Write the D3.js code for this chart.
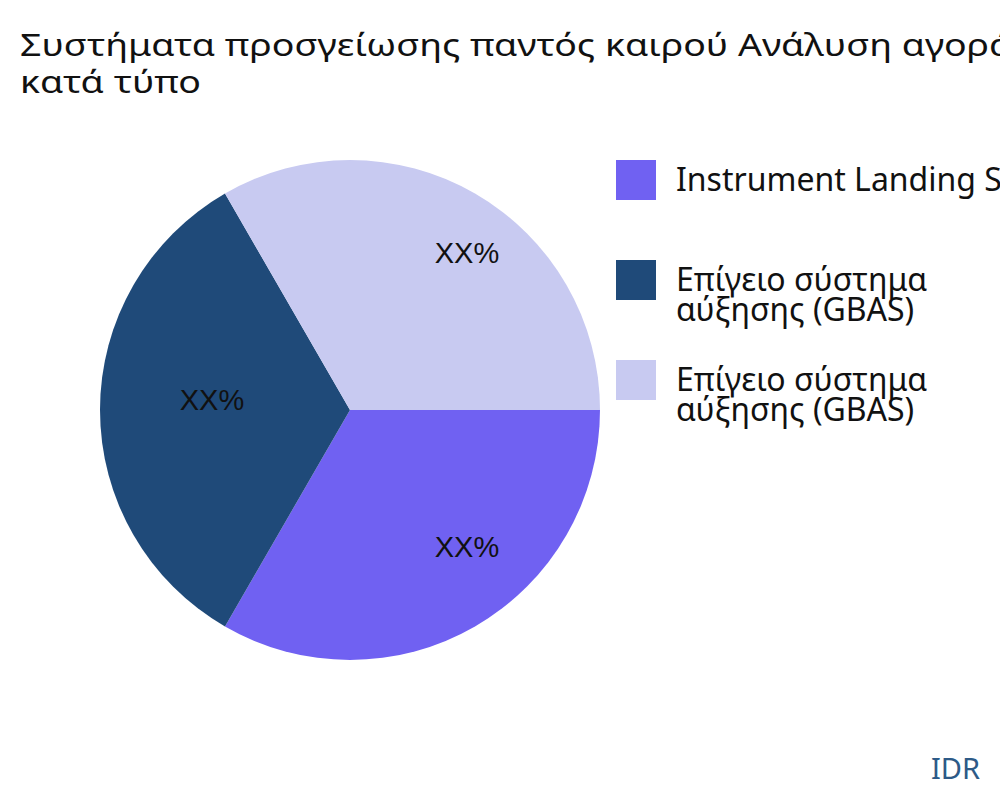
<!DOCTYPE html>
<html>
<head>
<meta charset="utf-8">
<script src="https://cdn.jsdelivr.net/npm/d3@7"></script>
<style>
  html, body { margin: 0; padding: 0; background: #fff; }
  svg { display: block; font-family: "Noto Sans", "Open Sans", sans-serif; }
</style>
</head>
<body>
<svg id="chart" width="1000" height="800"></svg>
<script>
const titleLines = ["Συστήματα προσγείωσης παντός καιρού Ανάλυση αγοράς", "κατά τύπο"];
const categories = ["Instrument Landing System (ILS)", "Επίγειο σύστημα αύξησης (GBAS)", "Επίγειο σύστημα αύξησης (GBAS)"];
const legendLines = [["Instrument Landing System (ILS)"], ["Επίγειο σύστημα", "αύξησης (GBAS)"], ["Επίγειο σύστημα", "αύξησης (GBAS)"]];
const values = [1, 1, 1];
const labels = ["XX%", "XX%", "XX%"];
const colors = ["#7061f2", "#1f4a79", "#c8caf1"];
const brand = "IDR";

const svg = d3.select("#chart");
const cx = 350, cy = 410, r = 250;

// title (rendered wide, as in the reference)
svg.append("g")
  .attr("transform", "translate(20,0) scale(1.21,1)")
  .append("text")
  .attr("x", 0).attr("y", 56)
  .attr("font-size", 31).attr("fill", "#111")
  .selectAll("tspan").data(titleLines).join("tspan")
  .attr("x", 0).attr("dy", (d, i) => i === 0 ? 0 : 37)
  .text(d => d);

const pie = d3.pie().sort(null).value(d => d)
  .startAngle(Math.PI / 2).endAngle(Math.PI / 2 + 2 * Math.PI);
const arcs = pie(values);
const arc = d3.arc().innerRadius(0).outerRadius(r);
const labelArc = d3.arc().innerRadius(r * 0.68).outerRadius(r * 0.68);

const g = svg.append("g").attr("transform", `translate(${cx},${cy})`);
g.selectAll("path").data(arcs).join("path")
  .attr("d", arc)
  .attr("fill", (d, i) => colors[i]);

g.selectAll("text.lbl").data(arcs).join("text")
  .attr("class", "lbl")
  .attr("transform", d => `translate(${labelArc.centroid(d)})`)
  .attr("dx", 32)
  .attr("text-anchor", "middle")
  .attr("font-family", "'Liberation Sans', Arial, sans-serif")
  .attr("font-size", 29)
  .attr("fill", "#111")
  .text((d, i) => labels[i]);

const legend = svg.append("g");
const items = legend.selectAll("g").data(categories).join("g")
  .attr("transform", (d, i) => `translate(616,${160 + i * 100})`);
items.append("rect")
  .attr("width", 40).attr("height", 40)
  .attr("fill", (d, i) => colors[i]);
items.append("text")
  .attr("x", 60).attr("y", 31)
  .attr("font-size", 32).attr("fill", "#111")
  .selectAll("tspan").data((d, i) => legendLines[i]).join("tspan")
  .attr("x", 60).attr("dy", (d, j) => j === 0 ? 0 : 30)
  .text(d => d);

svg.append("text")
  .attr("x", 980).attr("y", 779)
  .attr("text-anchor", "end")
  .attr("font-size", 29)
  .attr("fill", "#2d5a87")
  .text(brand);
</script>
</body>
</html>
